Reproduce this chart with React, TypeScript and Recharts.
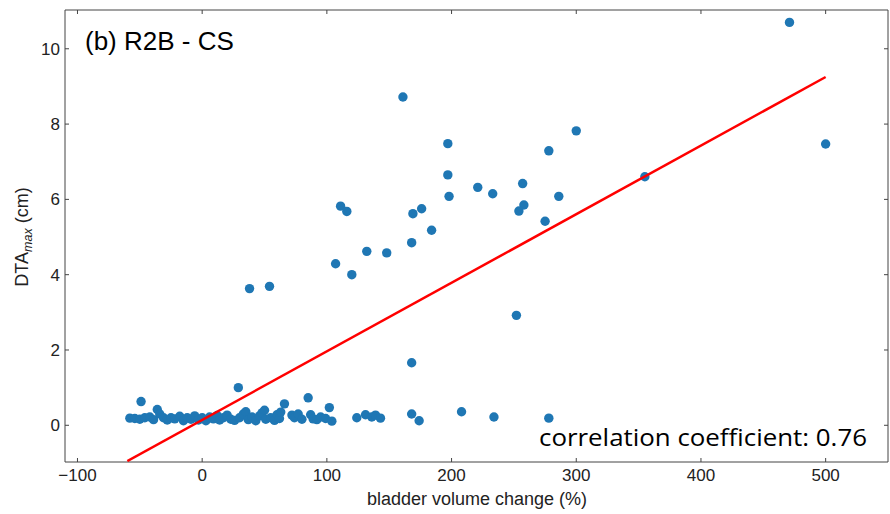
import { Scatter, ScatterChart, XAxis, YAxis } from 'recharts';

// bladder volume change (%) and DTA max (cm)
const volumeChange = [
  -58, -54, -50, -49, -46, -42, -39, -36, -34, -31, -28, -25, -22, -18, -15, -12, -9, -6, -3, 0,
  3, 6, 9, 12, 14, 17, 20, 23, 26, 29, 30, 33, 35, 37, 40, 43, 46, 48, 50, 51,
  55, 58, 60, 62, 63, 66, 72, 74, 77, 80, 85, 87, 89, 92, 95, 99, 102, 104,
  124, 131, 136, 139, 143, 168, 174, 208, 234, 278, 168, 252,
  38, 54, 107, 111, 116, 120, 132, 148, 161, 168, 169, 176, 184, 197, 197, 198,
  221, 233, 257, 258, 254, 275, 278, 300, 286, 355, 471, 500,
];
const dtaMax = [
  0.19, 0.18, 0.16, 0.63, 0.2, 0.22, 0.15, 0.42, 0.3, 0.2, 0.14, 0.2, 0.17, 0.24, 0.12, 0.2, 0.16, 0.25, 0.14, 0.2,
  0.12, 0.22, 0.17, 0.26, 0.14, 0.2, 0.27, 0.16, 0.13, 1.0, 0.2, 0.3, 0.36, 0.15, 0.22, 0.12, 0.25, 0.33, 0.4, 0.16,
  0.2, 0.13, 0.28, 0.18, 0.35, 0.57, 0.27, 0.2, 0.3, 0.16, 0.73, 0.28, 0.17, 0.15, 0.22, 0.18, 0.47, 0.11,
  0.2, 0.28, 0.22, 0.27, 0.19, 0.3, 0.12, 0.36, 0.22, 0.19, 1.66, 2.92,
  3.63, 3.69, 4.29, 5.82, 5.68, 4.0, 4.62, 4.58, 8.72, 4.85, 5.62, 5.75, 5.18, 7.48, 6.65, 6.08,
  6.32, 6.15, 6.42, 5.85, 5.69, 5.42, 7.29, 7.82, 6.08, 6.6, 10.7, 7.47,
];

// linear fit end points
const fitX = [-60, 500];
const fitY = [-0.95, 9.25];

const xTicks = [-100, 0, 100, 200, 300, 400, 500];
const yTicks = [0, 2, 4, 6, 8, 10];

const points = volumeChange.map((x, i) => ({ x, y: dtaMax[i] }));
const fit = fitX.map((x, i) => ({ x, y: fitY[i] }));

const xDomain = [-110, 550];
const yDomain = [-0.975, 11.03];
const axisColor = '#444';
const font = 'Liberation Sans, Arial, sans-serif';
const tickStyle = { fontSize: 17, fill: '#222', fontFamily: font };
const minus = (v: number) => String(v).replace('-', '\u2212');

export default function App() {
  return (
    <div style={{ position: 'absolute', left: 0, top: 0, width: 890, height: 514, background: '#fff' }}>
      <ScatterChart width={890} height={514} margin={{ top: 9, right: 1, bottom: 0, left: 0 }}>
        <XAxis
          type="number"
          dataKey="x"
          domain={xDomain}
          ticks={xTicks}
          allowDataOverflow
          height={52}
          stroke={axisColor}
          tickSize={-4}
          tickMargin={11}
          tick={tickStyle}
          tickFormatter={minus}
        />
        <XAxis
          xAxisId="top"
          orientation="top"
          type="number"
          dataKey="x"
          domain={xDomain}
          ticks={xTicks}
          allowDataOverflow
          height={1}
          stroke={axisColor}
          tickSize={-4}
          tickFormatter={() => ''}
        />
        <YAxis
          type="number"
          dataKey="y"
          domain={yDomain}
          ticks={yTicks}
          allowDataOverflow
          width={65}
          stroke={axisColor}
          tickSize={-4}
          tickMargin={9}
          tick={tickStyle}
        />
        <YAxis
          yAxisId="right"
          orientation="right"
          type="number"
          dataKey="y"
          domain={yDomain}
          ticks={yTicks}
          allowDataOverflow
          width={1}
          stroke={axisColor}
          tickSize={-4}
          tickFormatter={() => ''}
        />
        <Scatter
          data={points}
          isAnimationActive={false}
          shape={(p: any) => <circle cx={p.cx} cy={p.cy} r={4.7} fill="#1f77b4" />}
        />
        <Scatter
          data={fit}
          xAxisId="top"
          yAxisId="right"
          isAnimationActive={false}
          line={{ stroke: '#ff0000', strokeWidth: 2.5 }}
          shape={() => <g />}
        />
      </ScatterChart>
      <svg width={890} height={514} style={{ position: 'absolute', left: 0, top: 0, pointerEvents: 'none' }}>
        <text x={85} y={50} fontSize={26} fontFamily={font} fill="#000">(b) R2B - CS</text>
        <text
          x={539}
          y={446}
          fontSize={24}
          fontFamily="Open Sans, sans-serif"
          fill="#000"
          textLength={328}
          lengthAdjust="spacingAndGlyphs"
        >
          correlation coefficient: 0.76
        </text>
        <text x={477} y={505} fontSize={18} fontFamily={font} fill="#222" textAnchor="middle">
          bladder volume change (%)
        </text>
        <text
          x={28}
          y={237}
          fontSize={18}
          fontFamily={font}
          fill="#222"
          textAnchor="middle"
          transform="rotate(-90 28 237)"
        >
          DTA
          <tspan fontSize={12.5} fontStyle="italic" dy={4}>max</tspan>
          <tspan dy={-4}> (cm)</tspan>
        </text>
      </svg>
    </div>
  );
}
